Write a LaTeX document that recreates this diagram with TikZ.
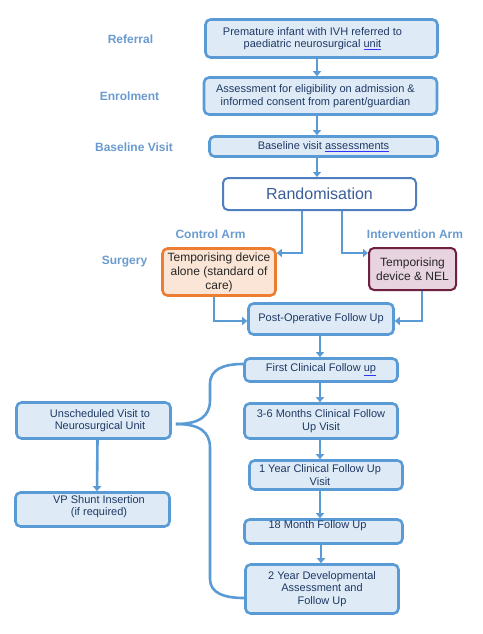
\documentclass[tikz,border=0pt]{standalone}
\usepackage{fontspec}
\setmainfont{Liberation Sans}
\usetikzlibrary{positioning, arrows.meta}
\definecolor{boxblue}{HTML}{5B9BD5}
\definecolor{boxfill}{HTML}{DEEBF7}
\definecolor{navy}{HTML}{1F3864}
\definecolor{labelblue}{HTML}{6A9BCF}
\definecolor{randline}{HTML}{4F7FBF}
\definecolor{randtext}{HTML}{3B5E9A}
\definecolor{ctrlline}{HTML}{ED7D31}
\definecolor{ctrlfill}{HTML}{FBE5D6}
\definecolor{intline}{HTML}{70203F}
\definecolor{intfill}{HTML}{E8D3E0}
\newcommand{\flagged}[1]{{\color{blue!80!white}\underline{\textcolor{navy}{#1}}}}
\tikzset{
    %Define style for boxes
    stagebox/.style={
           rectangle,
           rounded corners=5pt,
           draw=boxblue, line width=2.6pt,
           fill=boxfill,
           text=navy,
           align=center,
           inner sep=1pt,
           font=\fontsize{11}{12.5}\selectfont},
 %
    boxtext/.style={
           text=navy,
           align=center,
           inner sep=1pt,
           font=\fontsize{11}{12.5}\selectfont},
 %
    randbox/.style={
           stagebox,
           draw=randline,
           line width=2pt,
           fill=white,
           text=randtext,
           font=\fontsize{16}{18}\selectfont},
 %
    controlbox/.style={
           stagebox,
           draw=ctrlline,
           fill=ctrlfill,
           text=black!85,
           font=\fontsize{12}{14}\selectfont},
 %
    interventionbox/.style={
           stagebox,
           draw=intline,
           line width=2pt,
           fill=intfill,
           text=black!85,
           font=\fontsize{12}{14}\selectfont},
 %
    stagelabel/.style={
           text=labelblue,
           font=\bfseries\fontsize{12}{14}\selectfont},
 %
    % Define arrow style
    arrow/.style={
           -{Triangle[length=5pt,width=8pt]},
           draw=boxblue,
           line width=2.6pt},
 %
    bracket/.style={
           draw=boxblue,
           line width=2.6pt}
}
\begin{document}
\begin{tikzpicture}[x=1pt,y=-1pt]
  \useasboundingbox (0,0) rectangle (482,634);

  % stage labels
  \node[stagelabel] (lblreferral) at (130.5,39) {Referral};
  \node[stagelabel] (lblenrol) at (129.5,96) {Enrolment};
  \node[stagelabel] (lblbaseline) at (134,147) {Baseline Visit};
  \node[stagelabel] (lblcontrol) at (210.5,234) {Control Arm};
  \node[stagelabel] (lblinterv) at (415,234) {Intervention Arm};
  \node[stagelabel] (lblsurgery) at (124.5,262) {Surgery};

  % main column
  \node[stagebox, minimum width=232pt, minimum height=38pt] (referral) at (321.5,38.5) {};
  \node[boxtext] (referraltext) at ([xshift=-9pt]referral.center)
       {Premature infant with IVH referred to\\ paediatric neurosurgical \flagged{unit}};
  \node[stagebox, minimum width=233pt, minimum height=37pt] (enrol) at (320.5,96) {};
  \node[boxtext] (enroltext) at ([xshift=-5pt]enrol.center)
       {Assessment for eligibility on admission \&\\ informed consent from parent/guardian};
  \node[stagebox, minimum width=228pt, minimum height=20pt] (baseline) at (323.5,146.5)
       {Baseline visit \flagged{assessments}};
  \node[randbox, minimum width=193pt, minimum height=32pt] (rand) at (319.5,194)
       {Randomisation};
  \node[controlbox, minimum width=113pt, minimum height=47pt] (control) at (219,272)
       {Temporising device\\ alone (standard of\\ care)};
  \node[interventionbox, minimum width=87pt, minimum height=42pt] (interv) at (412.5,269)
       {Temporising\\ device \& NEL};
  \node[stagebox, minimum width=145pt, minimum height=31pt] (postop) at (321,319)
       {Post-Operative Follow Up};

  % follow up column
  \node[stagebox, minimum width=153pt, minimum height=23pt] (first) at (321,370)
       {First Clinical Follow \flagged{up}};
  \node[stagebox, minimum width=153pt, minimum height=35pt] (months) at (321,421)
       {3-6 Months Clinical Follow\\ Up Visit};
  \node[stagebox, minimum width=153pt, minimum height=29pt] (yearone) at (326,475) {};
  \node[boxtext] (yearonetext) at ([xshift=-6pt]yearone.center)
       {1 Year Clinical Follow Up\\ Visit};
  \node[stagebox, minimum width=158pt, minimum height=24pt] (monthsix) at (323.5,531.5) {};
  \node[boxtext] (monthsixtext) at ([xshift=-6pt,yshift=6pt]monthsix.center)
       {18 Month Follow Up};
  \node[stagebox, minimum width=153pt, minimum height=49pt] (yeartwo) at (322,589)
       {2 Year Developmental\\ Assessment and\\ Follow Up};

  % unscheduled branch
  \node[stagebox, minimum width=154pt, minimum height=36pt] (unsched) at (93.5,420.5) {};
  \node[boxtext] (unschedtext) at ([xshift=6.5pt]unsched.center)
       {Unscheduled Visit to\\ Neurosurgical Unit};
  \node[stagebox, minimum width=154pt, minimum height=34pt] (shunt) at (92.5,509.5) {};
  \node[boxtext] (shunttext) at ([xshift=6.5pt,yshift=3pt]shunt.center)
       {VP Shunt Insertion\\ (if required)};

  \coordinate (spine) at (317,0);
  \coordinate (lowspine) at (320,0);

  \draw[arrow] (referral.south -| spine) -- (enrol.north -| spine);
  \draw[arrow] (enrol.south -| spine) -- (baseline.north -| spine);
  \draw[arrow] (baseline.south -| spine) -- (rand.north -| spine);
  \draw[arrow] ([xshift=-17.5pt]rand.south) |- ([yshift=19pt]control.east);
  \draw[arrow] ([xshift=22.5pt]rand.south) |- ([yshift=16pt]interv.west);
  \draw[arrow] ([xshift=-5pt]control.south) |- ([yshift=-2pt]postop.west);
  \draw[arrow] ([xshift=9.5pt]interv.south) |- ([yshift=-2pt]postop.east);
  \draw[arrow] (postop.south -| lowspine) -- (first.north -| lowspine);
  \draw[arrow] (first.south -| lowspine) -- (months.north -| lowspine);
  \draw[arrow] (months.south -| lowspine) -- (yearone.north -| lowspine);
  \draw[arrow] (yearone.south -| lowspine) -- (monthsix.north -| lowspine);
  \draw[arrow] ([xshift=1pt]monthsix.south -| lowspine) -- ([xshift=1pt]yeartwo.north -| lowspine);
  \draw[arrow] ([xshift=4pt]unsched.south) -- ([xshift=4.5pt]shunt.north);

  % brace
  \coordinate (bracetip) at ([xshift=4pt,yshift=-3.5pt]unsched.east);
  \draw[bracket] (bracetip) .. controls (200,424) and (210,416) .. (210,400)
       -- (210,384) .. controls (210,369) and (224,364) .. ([yshift=6pt]first.west);
  \draw[bracket] (bracetip) .. controls (200,424) and (210,432) .. (210,448)
       -- (210,579) .. controls (210,593) and (224,598) .. ([yshift=-9pt]yeartwo.west);
\end{tikzpicture}
\end{document}
